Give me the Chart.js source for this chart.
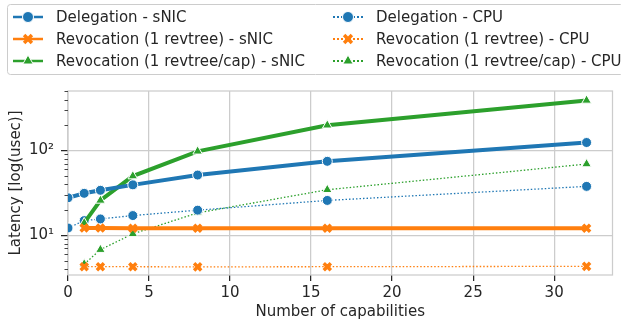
<!DOCTYPE html>
<html>
<head>
<meta charset="utf-8">
<script src="https://cdn.jsdelivr.net/npm/chart.js@4.4.1/dist/chart.umd.min.js"></script>
<style>
  html, body { margin: 0; padding: 0; background: #fff; }
</style>
</head>
<body>
<canvas id="chart" width="621" height="323"></canvas>
<script>
// number of capabilities
var capsDeleg = [0, 1, 2, 4, 8, 16, 32];
var capsRevoc = [1, 2, 4, 8, 16, 32];

// latency in usec
var delegSnic  = [27.7, 31.3, 34, 39.4, 51.4, 74.7, 124.5];
var delegCpu   = [12.2, 14.9, 15.6, 17.1, 19.8, 25.8, 37.8];
var revSnic    = [12.2, 12.2, 12.1, 12.1, 12.1, 12.1];
var revCpu     = [4.26, 4.26, 4.26, 4.24, 4.26, 4.3];
var revCapSnic = [14.0, 25.8, 50, 98, 199, 391];
var revCapCpu  = [4.58, 6.77, 10.4, 18.4, 34.5, 69.4];

var xTicks = [0, 5, 10, 15, 20, 25, 30];
var yMajor = [10, 100];
var yMinor = [4, 5, 6, 7, 8, 9, 20, 30, 40, 50, 60, 70, 80, 90, 200, 300, 400, 500];
var yLabels = { 10: '10\u00b9', 100: '10\u00b2' };

var blue = '#1f77b4', orange = '#ff7f0e', green = '#2ca02c';
var textCol = '#262626';

Chart.defaults.font.family = 'DejaVu Sans';
Chart.defaults.font.size = 15;
Chart.defaults.color = textCol;

function pts(xs, ys) {
    return xs.map(function (x, i) { return { x: x, y: ys[i] }; });
}

function line(label, xs, ys, color, style, snic) {
    var ds = {
        label: label,
        data: pts(xs, ys),
        borderColor: color,
        backgroundColor: color,
        borderWidth: snic ? 4 : 1.3,
        borderDash: snic ? [] : [1.5, 2],
        pointStyle: style,
        pointRadius: style == 'triangle' ? 5.5 : 5,
        pointBackgroundColor: color,
        pointBorderColor: '#ffffff',
        pointBorderWidth: 1,
        tension: 0,
        fill: false
    };
    if (style == 'crossRot') {
        ds.pointBorderColor = color;
        ds.pointBorderWidth = 3.5;
        ds.pointRadius = 5;
    }
    return ds;
}

var datasets = [
    line('Delegation - sNIC', capsDeleg, delegSnic, blue, 'circle', true),
    line('Revocation (1 revtree) - sNIC', capsRevoc, revSnic, orange, 'crossRot', true),
    line('Revocation (1 revtree/cap) - sNIC', capsRevoc, revCapSnic, green, 'triangle', true),
    line('Delegation - CPU', capsDeleg, delegCpu, blue, 'circle', false),
    line('Revocation (1 revtree) - CPU', capsRevoc, revCpu, orange, 'crossRot', false),
    line('Revocation (1 revtree/cap) - CPU', capsRevoc, revCapCpu, green, 'triangle', false)
];

// frame round the plot + short minor ticks on the y axis
var framePlugin = {
    id: 'frame',
    beforeDatasetsDraw: function (chart) {
        var ctx = chart.ctx, a = chart.chartArea;
        ctx.save();
        ctx.strokeStyle = '#cccccc';
        ctx.lineWidth = 1.25;
        ctx.strokeRect(a.left, a.top, a.right - a.left, a.bottom - a.top);
        var y = chart.scales.y;
        ctx.strokeStyle = '#444';
        ctx.lineWidth = 1;
        yMinor.forEach(function (v) {
            var py = Math.round(y.getPixelForValue(v)) + 0.5;
            ctx.beginPath();
            ctx.moveTo(a.left - 3.5, py);
            ctx.lineTo(a.left, py);
            ctx.stroke();
        });
        ctx.restore();
    }
};

// two column legend like the matplotlib one
var legendPlugin = {
    id: 'colLegend',
    afterDraw: function (chart) {
        var ctx = chart.ctx;
        ctx.save();
        ctx.fillStyle = 'rgba(255,255,255,0.8)';
        ctx.strokeStyle = '#cccccc';
        ctx.lineWidth = 1;
        ctx.beginPath();
        ctx.roundRect(7.5, 4.5, 616, 70, 3);
        ctx.fill();
        ctx.stroke();

        var cols = [{ x0: 13, x1: 43, m: 28, t: 56 }, { x0: 333, x1: 363, m: 348, t: 376 }];
        var rows = [17, 39, 61];
        chart.data.datasets.forEach(function (ds, i) {
            var c = cols[i < 3 ? 0 : 1], y = rows[i % 3];
            var snic = i < 3;
            ctx.strokeStyle = ds.borderColor;
            ctx.lineWidth = snic ? 2.5 : 2;
            ctx.setLineDash(snic ? [] : [2, 2]);
            ctx.beginPath();
            ctx.moveTo(c.x0, y);
            ctx.lineTo(c.x1, y);
            ctx.stroke();
            ctx.setLineDash([]);
            ctx.fillStyle = ds.pointBackgroundColor;
            ctx.strokeStyle = ds.pointBorderColor;
            ctx.lineWidth = ds.pointBorderWidth;
            Chart.helpers.drawPoint(ctx, {
                pointStyle: ds.pointStyle,
                radius: ds.pointRadius + 0.5,
                rotation: 0,
                borderWidth: ds.pointBorderWidth
            }, c.m, y);
            ctx.fillStyle = textCol;
            ctx.font = '15px "DejaVu Sans"';
            ctx.textBaseline = 'middle';
            ctx.textAlign = 'left';
            ctx.fillText(ds.label, c.t, y + 1);
        });
        ctx.restore();
    }
};

new Chart(document.getElementById('chart'), {
    type: 'line',
    data: { datasets: datasets },
    plugins: [framePlugin, legendPlugin],
    options: {
        responsive: false,
        devicePixelRatio: 1,
        animation: false,
        layout: { padding: { top: 91, left: 0, right: 1, bottom: 0 } },
        plugins: { legend: { display: false }, tooltip: { enabled: false } },
        scales: {
            x: {
                type: 'linear',
                min: 0,
                max: 33.6,
                afterBuildTicks: function (s) {
                    s.ticks = xTicks.map(function (v) { return { value: v }; });
                },
                afterFit: function (s) { s.height = 48; },
                grid: { color: '#cccccc', lineWidth: 1.25, tickLength: 6, tickColor: textCol },
                border: { display: false },
                ticks: { padding: 3, maxRotation: 0, color: textCol },
                title: { display: true, text: 'Number of capabilities', color: textCol, padding: { top: 0, bottom: 2 } }
            },
            y: {
                type: 'logarithmic',
                min: 3.4,
                max: 505,
                afterBuildTicks: function (s) {
                    s.ticks = yMajor.concat(yMinor).sort(function (a, b) { return a - b; })
                        .map(function (v) { return { value: v, major: yMajor.indexOf(v) >= 0 }; });
                },
                afterFit: function (s) { s.width = 68; },
                grid: {
                    color: function (c) { return c.tick && yMajor.indexOf(c.tick.value) >= 0 ? '#cccccc' : 'rgba(0,0,0,0)'; },
                    tickColor: function (c) { return c.tick && yMajor.indexOf(c.tick.value) >= 0 ? textCol : 'rgba(0,0,0,0)'; },
                    lineWidth: 1.25,
                    tickLength: 7
                },
                border: { display: false },
                ticks: {
                    autoSkip: false,
                    padding: 7,
                    color: textCol,
                    callback: function (v) { return yLabels[v] || ''; }
                },
                title: { display: true, text: 'Latency [log(usec)]', color: textCol, padding: { top: 7 } }
            }
        }
    }
});
</script>
</body>
</html>
